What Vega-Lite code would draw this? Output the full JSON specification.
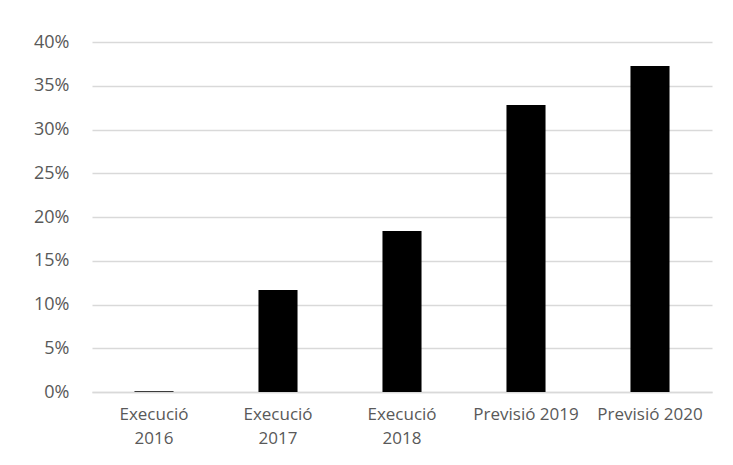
{
  "$schema": "https://vega.github.io/schema/vega-lite/v6.json",
  "width": 620,
  "height": 350,
  "autosize": {"type": "none"},
  "padding": {"left": 92, "top": 42, "right": 21, "bottom": 73},
  "background": "white",
  "config": {
    "view": {"stroke": null},
    "font": "Open Sans"
  },
  "data": {
    "values": [
      {"categoria": "Execució 2016", "valor": 0.001},
      {"categoria": "Execució 2017", "valor": 0.1166},
      {"categoria": "Execució 2018", "valor": 0.184},
      {"categoria": "Previsió 2019", "valor": 0.328},
      {"categoria": "Previsió 2020", "valor": 0.3726}
    ]
  },
  "mark": {"type": "bar", "color": "#000000"},
  "encoding": {
    "x": {
      "field": "categoria",
      "type": "nominal",
      "sort": null,
      "title": null,
      "scale": {"paddingInner": 0.685, "paddingOuter": 0.3425},
      "axis": {
        "labelAngle": 0,
        "labelExpr": "indexof(datum.label, 'Execució') == 0 ? split(datum.label, ' ') : datum.label",
        "labelFontSize": 17,
        "labelColor": "#595959",
        "labelLineHeight": 24,
        "labelPadding": 14,
        "ticks": false,
        "domainColor": "#d9d9d9",
        "domainWidth": 1.3,
        "labelLimit": 200
      }
    },
    "y": {
      "field": "valor",
      "type": "quantitative",
      "title": null,
      "scale": {"domain": [0, 0.4], "nice": false},
      "axis": {
        "values": [0, 0.05, 0.1, 0.15, 0.2, 0.25, 0.3, 0.35, 0.4],
        "format": ".0%",
        "labelFontSize": 18,
        "labelColor": "#595959",
        "labelPadding": 23,
        "ticks": false,
        "domain": false,
        "gridColor": "#d9d9d9",
        "gridWidth": 1.3
      }
    }
  }
}
